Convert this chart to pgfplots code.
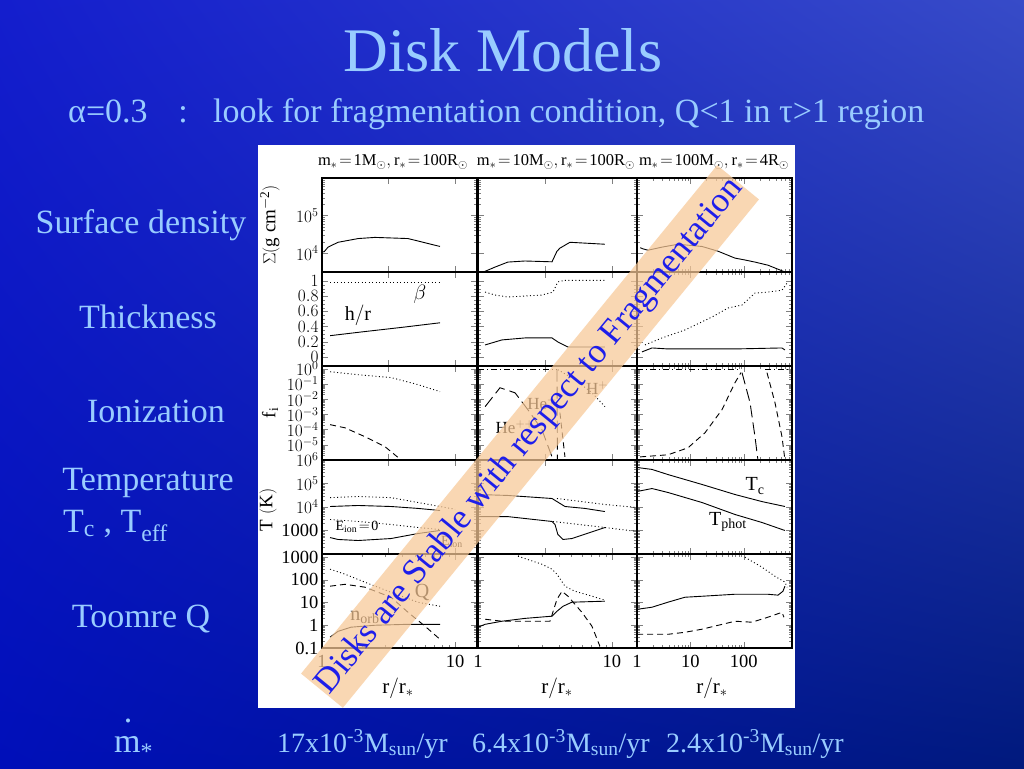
\documentclass[border=0pt]{standalone}
\usepackage{fontspec}
\setmainfont{Liberation Serif}
\usepackage{pgfplots}
\pgfplotsset{compat=1.18}
\usetikzlibrary{shadings}
\definecolor{slidetext}{RGB}{153,204,255}
\definecolor{bandfill}{RGB}{248,200,150}
\definecolor{bandtext}{RGB}{30,30,235}
\definecolor{bgul}{RGB}{20,30,205}
\definecolor{bgur}{RGB}{55,75,200}
\definecolor{bgll}{RGB}{0,15,185}
\definecolor{bglr}{RGB}{0,25,125}
\pgfplotsset{
 every axis/.append style={scale only axis, height=94pt, axis line style={line width=1.2pt},
   tick align=inside, xtick pos=both, ytick pos=both,
   major tick length=6pt, minor tick length=3pt,
   tick label style={font=\fontsize{18.5}{18.5}\selectfont},
   xticklabel style={yshift=-4pt}},
 every axis plot post/.append style={black, line width=0.9pt, mark=none},
}
\tikzset{
 dotl/.style={dash pattern=on 1pt off 2.5pt},
 dashl/.style={dash pattern=on 6pt off 4pt},
 ldash/.style={dash pattern=on 12pt off 5pt},
 ddot/.style={dash pattern=on 6pt off 3pt on 1pt off 3pt},
}
\begin{document}
\begin{tikzpicture}
\begin{scope}[x=1pt,y=1pt]
\shade[upper left=bgul, upper right=bgur, lower left=bgll, lower right=bglr] (0,0) rectangle (1024,768);
\fill[white] (258,60) rectangle (795,623);
\begin{scope}[every node/.style={text=slidetext, inner sep=0pt}]
\node[anchor=base, font=\fontsize{62}{62}\selectfont] at (503,696) {Disk Models};
\node[anchor=base west, font=\fontsize{34}{34}\selectfont] at (68,645) {α=0.3};
\node[anchor=base, font=\fontsize{34}{34}\selectfont] at (183,645) {:};
\node[anchor=base west, font=\fontsize{34}{34}\selectfont] at (213,645) {look for fragmentation condition, Q<1 in τ>1 region};
\node[anchor=base, font=\fontsize{34}{34}\selectfont] at (141,534) {Surface density};
\node[anchor=base, font=\fontsize{34}{34}\selectfont] at (148,439) {Thickness};
\node[anchor=base, font=\fontsize{34}{34}\selectfont] at (156,345) {Ionization};
\node[anchor=base, font=\fontsize{34}{34}\selectfont] at (148,277) {Temperature};
\node[anchor=base west, font=\fontsize{34}{34}\selectfont] at (63,235) {T\textsubscript{c} , T\textsubscript{eff}};
\node[anchor=base, font=\fontsize{34}{34}\selectfont] at (141,141) {Toomre Q};
\node[anchor=base west, font=\fontsize{34}{34}\selectfont] at (114,16) {m\textsubscript{*}};
\node[anchor=base, font=\fontsize{34}{34}\selectfont] at (128,46) {.};
\node[anchor=base west, font=\fontsize{28}{28}\selectfont] at (277,16) {17x10\textsuperscript{-3}M\textsubscript{sun}/yr};
\node[anchor=base west, font=\fontsize{28}{28}\selectfont] at (472,16) {6.4x10\textsuperscript{-3}M\textsubscript{sun}/yr};
\node[anchor=base west, font=\fontsize{28}{28}\selectfont] at (666,16) {2.4x10\textsuperscript{-3}M\textsubscript{sun}/yr};
\end{scope}
\end{scope}

% ---------- Row 1: surface density
\begin{axis}[xmode=log, ymode=log, width=155pt, xmin=1, xmax=14.6, ymin=3162, ymax=1e6, ytick={1e4,1e5,1e6},
  xticklabels={}, yticklabels={$10^4$,$10^5$,{}}, at={(322pt,496pt)}, anchor=south west]
\addplot coordinates {(1.0,10700) (1.04,11000) (1.11,14500) (1.32,19500) (1.87,24500) (2.5,26300) (4.43,24500) (7.7,15100)};
\end{axis}
\begin{axis}[xmode=log, ymode=log, width=159pt, xmin=1, xmax=15.4, ymin=3162, ymax=1e6, ytick={1e4,1e5,1e6},
  xticklabels={}, yticklabels={}, at={(478pt,496pt)}, anchor=south west]
\addplot coordinates {(1.1,3162) (1.13,3300) (1.34,4270) (1.67,5800) (2.24,6200) (3.57,5900) (3.89,11300) (4.09,13600) (4.86,19500) (8.87,17300)};
\end{axis}
\begin{axis}[xmode=log, ymode=log, width=155pt, xmin=1, xmax=800, ymin=3162, ymax=1e6, ytick={1e4,1e5,1e6},
  xticklabels={}, yticklabels={}, at={(637pt,496pt)}, anchor=south west]
\addplot coordinates {(1.15,14000) (1.3,13000) (1.61,12000) (2.94,14500) (5.86,17300) (16.5,15100) (32.9,11300) (68.4,7400) (105,6600) (162,5800) (283,4800) (590,3162)};
\end{axis}

% ---------- Row 2: thickness
\begin{axis}[xmode=log, width=155pt, xmin=1, xmax=14.6, ymin=-0.12, ymax=1.12, ytick={0,0.2,0.4,0.6,0.8,1}, minor y tick num=3,
  xticklabels={}, at={(322pt,402pt)}, anchor=south west]
\addplot[dotl] coordinates {(1.15,0.98) (7.7,0.98)};
\addplot coordinates {(1.15,0.28) (2,0.33) (4,0.39) (7.7,0.45)};
\end{axis}
\begin{axis}[xmode=log, width=159pt, xmin=1, xmax=15.4, ymin=-0.12, ymax=1.12, ytick={0,0.2,0.4,0.6,0.8,1}, minor y tick num=3,
  xticklabels={}, yticklabels={}, at={(478pt,402pt)}, anchor=south west]
\addplot[dotl] coordinates {(1.13,0.855) (1.34,0.816) (1.67,0.79) (3.0,0.816) (3.63,0.855) (3.95,0.99) (4.46,1.01) (8.87,1.01)};
\addplot coordinates {(1.13,0.158) (1.51,0.224) (2.24,0.25) (3.57,0.25) (3.95,0.197) (4.69,0.13) (8.87,0.13)};
\end{axis}
\begin{axis}[xmode=log, width=155pt, xmin=1, xmax=800, ymin=-0.12, ymax=1.12, ytick={0,0.2,0.4,0.6,0.8,1}, minor y tick num=3,
  xticklabels={}, yticklabels={}, at={(637pt,402pt)}, anchor=south west]
\addplot[dotl] coordinates {(1.41,0.158) (2.94,0.25) (7.9,0.355) (25.4,0.526) (50.6,0.645) (92.6,0.684) (162,0.842) (283,0.855) (519,0.88) (674,0.99)};
\addplot coordinates {(1.24,0.066) (1.91,0.118) (3.8,0.105) (68.4,0.105) (519,0.118) (590,0.092)};
\end{axis}

% ---------- Row 3: ionization
\begin{axis}[xmode=log, ymode=log, width=155pt, xmin=1, xmax=14.6, ymin=1e-6, ymax=1.5, ytick={1e-6,1e-5,1e-4,1e-3,1e-2,1e-1,1},
  xticklabels={}, yticklabels={$10^{6}$,$10^{-5}$,$10^{-4}$,$10^{-3}$,$10^{-2}$,$10^{-1}$,$10^{0}$}, at={(322pt,308pt)}, anchor=south west]
\addplot[dotl] coordinates {(1.15,0.63) (1.87,0.4) (3.3,0.26) (5.27,0.089) (7.7,0.031)};
\addplot[dashl] coordinates {(1.15,2.1e-4) (1.49,1.3e-4) (2.1,3.4e-5) (2.98,7.4e-6) (3.93,1e-6)};
\end{axis}
\begin{axis}[xmode=log, ymode=log, width=159pt, xmin=1, xmax=15.4, ymin=1e-6, ymax=1.5, ytick={1e-6,1e-5,1e-4,1e-3,1e-2,1e-1,1},
  xticklabels={}, yticklabels={}, at={(478pt,308pt)}, anchor=south west]
\addplot[ddot] coordinates {(1.0,0.86) (3.9,0.86)};
\addplot[ldash] coordinates {(3.89,0.86) (3.92,1e-6)};
\addplot[dotl] coordinates {(3.95,0.86) (5.3,0.19) (7.1,0.026) (8.87,0.0032)};
\addplot[ldash] coordinates {(1.13,0.0032) (1.46,0.056) (1.89,0.026) (2.36,0.002) (3.0,1e-4) (3.57,1.6e-6)};
\addplot[dashl] coordinates {(4.09,1.3e-3) (4.46,1.6e-6)};
\end{axis}
\begin{axis}[xmode=log, ymode=log, width=155pt, xmin=1, xmax=800, ymin=1e-6, ymax=1.5, ytick={1e-6,1e-5,1e-4,1e-3,1e-2,1e-1,1},
  xticklabels={}, yticklabels={}, at={(637pt,308pt)}, anchor=south west]
\addplot[ddot] coordinates {(1,0.86) (88,0.86)};
\addplot[ddot] coordinates {(250,0.86) (800,0.86)};
\addplot[dashl] coordinates {(1.14,1.6e-6) (3.8,2.2e-6) (9.0,6.3e-6) (18.8,6.2e-5) (39,2e-3) (68.4,0.12) (88.6,0.55)};
\addplot[ldash] coordinates {(92.6,0.55) (131,5.8e-3) (162,3.4e-5) (184,1e-6)};
\addplot[dashl] coordinates {(272,0.55) (384,5.8e-3) (519,3.4e-5) (590,1e-6)};
\end{axis}

% ---------- Row 4: temperature
\begin{axis}[xmode=log, ymode=log, width=155pt, xmin=1, xmax=14.6, ymin=100, ymax=1e6, ytick={100,1000,1e4,1e5,1e6},
  xticklabels={}, yticklabels={{},1000,$10^4$,$10^5$,{}}, at={(322pt,214pt)}, anchor=south west]
\addplot[dotl] coordinates {(1.15,25000) (1.87,28000) (3.3,25000) (5.27,15500) (7.7,10500) (10,8000)};
\addplot coordinates {(1.15,10500) (1.87,11600) (3.3,10500) (5.27,8700) (7.7,7100)};
\addplot[dotl] coordinates {(1.15,2940) (1.87,2420) (3.3,1800) (5.27,1340) (7.7,1100)};
\addplot coordinates {(1.15,500) (1.32,415) (1.87,375) (3.3,455) (5.27,745) (7.7,1000)};
\end{axis}
\begin{axis}[xmode=log, ymode=log, width=159pt, xmin=1, xmax=15.4, ymin=100, ymax=1e6, ytick={100,1000,1e4,1e5,1e6},
  xticklabels={}, yticklabels={}, at={(478pt,214pt)}, anchor=south west]
\addplot coordinates {(1.0,34000) (1.67,31000) (3.57,23000) (3.89,17000) (4.46,10500) (6.28,8700) (8.87,6400)};
\addplot[dotl] coordinates {(3.89,23000) (8.87,12800) (15.4,9500)};
\addplot coordinates {(1.0,3900) (1.67,3900) (3.57,2420) (3.76,1800) (3.95,675) (4.31,415) (5.03,455) (8.87,1340)};
\addplot[dotl] coordinates {(3.63,2420) (8.87,1340) (15.4,910)};
\end{axis}
\begin{axis}[xmode=log, ymode=log, width=155pt, xmin=1, xmax=800, ymin=100, ymax=1e6, ytick={100,1000,1e4,1e5,1e6},
  xticklabels={}, yticklabels={}, at={(637pt,214pt)}, anchor=south west]
\addplot coordinates {(1,480000) (1.91,397000) (3.8,240000) (16.5,91000) (68.4,34000) (219,17000) (590,10500)};
\addplot coordinates {(1,45700) (1.91,61000) (3.8,41500) (16.5,15500) (68.4,4800) (219,2190) (590,1000)};
\end{axis}

% ---------- Row 5: Toomre Q
\begin{axis}[xmode=log, ymode=log, width=155pt, xmin=1, xmax=14.6, ymin=0.1, ymax=1350, ytick={0.1,1,10,100,1000},
  xtick={1,10}, xticklabels={1,10}, yticklabels={0.1,1,10,100,1000}, at={(322pt,120pt)}, anchor=south west]
\addplot[dotl] coordinates {(1.15,290) (1.49,175) (2.1,78) (3.3,28) (5.27,10.2) (7.7,6.8)};
\addplot[dashl] coordinates {(1.15,52) (1.49,63) (2.1,47) (3.3,17) (4.43,3.7) (5.95,0.9) (7.7,0.24)};
\addplot coordinates {(1.15,0.3) (1.32,0.54) (1.65,0.82) (2.5,1.0) (4.43,1.1) (7.7,1.1)};
\end{axis}
\begin{axis}[xmode=log, ymode=log, width=159pt, xmin=1, xmax=15.4, ymin=0.1, ymax=1350, ytick={0.1,1,10,100,1000},
  xtick={1,10}, xticklabels={1,10}, yticklabels={}, at={(478pt,120pt)}, anchor=south west]
\addplot[dotl] coordinates {(1.99,1080) (3.0,480) (3.57,290) (3.89,175) (4.46,52) (5.3,31) (7.1,19) (8.87,12.6)};
\addplot coordinates {(1.0,0.82) (1.13,1.1) (1.51,1.5) (2.24,2.0) (3.57,2.5) (3.89,4.1) (4.31,6.8) (5.03,10.3) (8.87,11.4)};
\addplot[dashl] coordinates {(1.13,1.84) (1.51,1.5) (2.24,1.5) (3.45,1.5) (3.89,13.9) (4.24,31) (4.69,19) (5.97,3.7) (7.1,0.9) (8.13,0.12)};
\end{axis}
\begin{axis}[xmode=log, ymode=log, width=155pt, xmin=1, xmax=800, ymin=0.1, ymax=1350, ytick={0.1,1,10,100,1000},
  xtick={1,10,100}, xticklabels={1,10,100}, yticklabels={}, at={(637pt,120pt)}, anchor=south west]
\addplot[dotl] coordinates {(105,980) (219,355) (384,142) (590,78) (650,47)};
\addplot coordinates {(1,5.0) (1.91,6.2) (3.8,10.3) (7.9,17) (16.5,18.8) (68.4,23) (283,23) (437,21) (540,31) (590,52)};
\addplot[dashl] coordinates {(1,0.4) (3.8,0.4) (7.9,0.49) (16.5,0.67) (68.4,1.5) (142,1.36) (283,2.25) (519,3.7) (565,2.25)};
\end{axis}

\begin{scope}[x=1pt,y=1pt]
\begin{scope}[every node/.style={inner sep=0pt, text=black}]
\node[font=\fontsize{16.5}{16.5}\selectfont] at (393,606) {$\mathrm{m_{*}\!=\!1M_{\odot},r_{*}\!=\!100R_{\odot}}$};
\node[font=\fontsize{16.5}{16.5}\selectfont] at (556,606) {$\mathrm{m_{*}\!=\!10M_{\odot},r_{*}\!=\!100R_{\odot}}$};
\node[font=\fontsize{16.5}{16.5}\selectfont] at (714,606) {$\mathrm{m_{*}\!=\!100M_{\odot},r_{*}\!=\!4R_{\odot}}$};
\node[rotate=90, font=\fontsize{19}{19}\selectfont] at (270,543) {$\Sigma(\mathrm{g\ cm^{-2}})$};
\node[rotate=90, font=\fontsize{19}{19}\selectfont] at (270,355) {$\mathrm{f_i}$};
\node[rotate=90, font=\fontsize{19}{19}\selectfont] at (268,258) {$\mathrm{T\ (K)}$};
\node[font=\fontsize{21}{21}\selectfont] at (398,80) {$\mathrm{r/r_{*}}$};
\node[font=\fontsize{21}{21}\selectfont] at (557,80) {$\mathrm{r/r_{*}}$};
\node[font=\fontsize{21}{21}\selectfont] at (712,80) {$\mathrm{r/r_{*}}$};
\node[font=\fontsize{20}{20}\selectfont] at (420,474) {$\beta$};
\node[font=\fontsize{20}{20}\selectfont] at (358,453) {$\mathrm{h/r}$};
\node[font=\fontsize{17}{17}\selectfont] at (597,380) {$\mathrm{H^{+}}$};
\node[font=\fontsize{17}{17}\selectfont] at (542,365) {$\mathrm{He^{+}}$};
\node[font=\fontsize{17}{17}\selectfont] at (515,341) {$\mathrm{He^{++}}$};
\node[font=\fontsize{14}{14}\selectfont] at (357,241) {$\mathrm{E_{ion}\!=\!0}$};
\node[font=\fontsize{14}{14}\selectfont] at (452,226) {$\mathrm{E_{ion}}$};
\node[font=\fontsize{20}{20}\selectfont] at (755,282) {$\mathrm{T_c}$};
\node[font=\fontsize{20}{20}\selectfont] at (728,246) {$\mathrm{T_{phot}}$};
\node[font=\fontsize{20}{20}\selectfont] at (365,151) {$\mathrm{n_{orb}}$};
\node[font=\fontsize{20}{20}\selectfont] at (422,175) {$\mathrm{Q}$};
\end{scope}
\node[rotate=50.7, fill=bandfill, fill opacity=0.72, text opacity=1, text=bandtext,
  minimum width=657pt, minimum height=54pt, inner sep=0pt,
  font=\fontsize{35}{35}\selectfont] at (530,331.5) {Disks are Stable with respect to Fragmentation};
\end{scope}
\end{tikzpicture}
\end{document}
